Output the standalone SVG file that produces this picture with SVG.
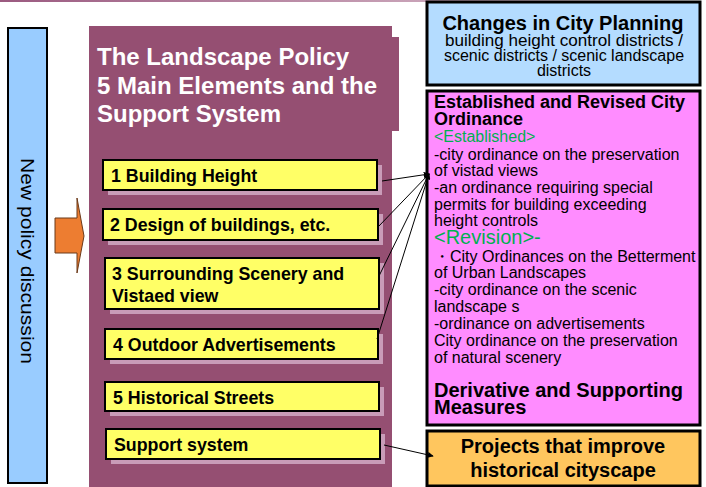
<svg xmlns="http://www.w3.org/2000/svg" width="706" height="487" viewBox="0 0 706 487">
<defs>
  <linearGradient id="topbar" x1="0" y1="0" x2="1" y2="0">
    <stop offset="0" stop-color="#9b5a80"/>
    <stop offset="0.6" stop-color="#c9a3b8"/>
    <stop offset="1" stop-color="#ffffff"/>
  </linearGradient>
  <marker id="ah" viewBox="0 0 8 8" refX="7" refY="4" markerWidth="6" markerHeight="6" orient="auto" markerUnits="userSpaceOnUse">
    <path d="M0,0 L8,4 L0,8 z" fill="#000"/>
  </marker>
</defs>
<style>
  text { font-family: "Liberation Sans", Arial, sans-serif; }
  .title { fill: #ffffff; font-weight: bold; font-size: 24px; }
  .item-shadow { fill: #c99cb8; }
  .item { fill: #ffff66; stroke: #000; stroke-width: 2; }
  .item-text { font-weight: bold; font-size: 17.8px; fill: #000; }
  .conn { stroke: #000; stroke-width: 1; fill: none; }
  .box { stroke: #000; stroke-width: 3; }
  .body { font-size: 16px; fill: #000; }
  .green { fill: #00b050; }
  .bold18 { font-weight: bold; font-size: 18px; }
  .bold20 { font-weight: bold; font-size: 20px; }
  .sub { font-size: 16px; fill: #000; }
</style>

<rect x="0" y="0" width="706" height="2" fill="url(#topbar)"/>

<g id="new-policy">
  <rect x="8" y="28" width="39" height="455" fill="#99ccff" stroke="#000" stroke-width="2"/>
  <text transform="translate(21,158) rotate(90)" font-size="18.5px" fill="#000" textLength="206" lengthAdjust="spacingAndGlyphs">New policy discussion</text>
</g>

<g id="arrow">
  <path d="M55,218 L77,218 L77,198 L84,236 L77,273 L77,253 L55,253 Z" fill="#ed7d31" stroke="#6b3a1a" stroke-width="1"/>
</g>

<g id="policy-panel">
  <rect x="89" y="26" width="303" height="461" fill="#954f72"/>
  <rect x="89" y="37" width="310" height="94" fill="#954f72"/>
  <text class="title" x="97" y="65">The Landscape Policy</text>
  <text class="title" x="97" y="94">5 Main Elements and the</text>
  <text class="title" x="97" y="122">Support System</text>
</g>

<g id="item1">
  <rect class="item-shadow" x="108" y="165" width="274" height="30"/>
  <rect class="item" x="103" y="160" width="274" height="30"/>
  <text class="item-text" x="111" y="182">1 Building Height</text>
</g>
<g id="item2">
  <rect class="item-shadow" x="108" y="214" width="275" height="31"/>
  <rect class="item" x="103" y="209" width="275" height="31"/>
  <text class="item-text" x="110" y="231">2 Design of buildings, etc.</text>
</g>
<g id="item3">
  <rect class="item-shadow" x="110" y="263" width="274" height="51"/>
  <rect class="item" x="105" y="258" width="274" height="51"/>
  <text class="item-text" x="112" y="280">3 Surrounding Scenery and</text>
  <text class="item-text" x="112" y="302">Vistaed view</text>
</g>
<g id="item4">
  <rect class="item-shadow" x="110" y="334" width="273" height="30"/>
  <rect class="item" x="105" y="329" width="273" height="30"/>
  <text class="item-text" x="113" y="351">4 Outdoor Advertisements</text>
</g>
<g id="item5">
  <rect class="item-shadow" x="110" y="387" width="274" height="29"/>
  <rect class="item" x="105" y="382" width="274" height="29"/>
  <text class="item-text" x="113" y="404">5 Historical Streets</text>
</g>
<g id="support">
  <rect class="item-shadow" x="111" y="434" width="274" height="30"/>
  <rect class="item" x="106" y="429" width="274" height="30"/>
  <text class="item-text" x="114" y="451">Support system</text>
</g>

<g id="city-planning">
  <rect class="box" x="427" y="2" width="273" height="83" fill="#b4dcff"/>
  <text class="bold20" x="563" y="30" text-anchor="middle">Changes in City Planning</text>
  <text class="sub" x="564" y="46" text-anchor="middle" textLength="238" lengthAdjust="spacingAndGlyphs">building height control districts /</text>
  <text class="sub" x="564" y="61" text-anchor="middle">scenic districts / scenic landscape</text>
  <text class="sub" x="564" y="76" text-anchor="middle">districts</text>
</g>

<g id="ordinance">
  <rect class="box" x="427" y="91" width="273" height="334" fill="#ff8cff"/>
  <text class="bold18" x="434" y="108">Established and Revised City</text>
  <text class="bold18" x="434" y="125">Ordinance</text>
  <text class="body green" x="434" y="142">&lt;Established&gt;</text>
  <text class="body" x="434" y="160">-city ordinance on the preservation</text>
  <text class="body" x="434" y="176">of vistad views</text>
  <text class="body" x="434" y="193">-an ordinance requiring special</text>
  <text class="body" x="434" y="210">permits for building exceeding</text>
  <text class="body" x="434" y="226">height controls</text>
  <text class="green" x="434" y="244" font-size="20px">&lt;Revision&gt;-</text>
  <text class="body" x="434" y="262">・City Ordinances on the Betterment</text>
  <text class="body" x="434" y="278">of Urban Landscapes</text>
  <text class="body" x="434" y="295">-city ordinance on the scenic</text>
  <text class="body" x="434" y="312">landscape s</text>
  <text class="body" x="434" y="329">-ordinance on advertisements</text>
  <text class="body" x="434" y="346">City ordinance on the preservation</text>
  <text class="body" x="434" y="363">of natural scenery</text>
  <text class="bold20" x="434" y="397">Derivative and Supporting</text>
  <text class="bold20" x="434" y="414">Measures</text>
</g>

<g id="projects">
  <rect class="box" x="427" y="431" width="273" height="55" fill="#ffc65e"/>
  <text class="bold20" x="563" y="453" text-anchor="middle">Projects that improve</text>
  <text class="bold20" x="563" y="477" text-anchor="middle">historical cityscape</text>
</g>

<g id="connectors">
  <line class="conn" x1="382" y1="181" x2="429" y2="174" marker-end="url(#ah)"/>
  <line class="conn" x1="378" y1="227" x2="429" y2="174" marker-end="url(#ah)"/>
  <line class="conn" x1="379" y1="276" x2="429" y2="174" marker-end="url(#ah)"/>
  <line class="conn" x1="377" y1="339" x2="429" y2="174" marker-end="url(#ah)"/>
  <line class="conn" x1="384" y1="445" x2="433" y2="456" marker-end="url(#ah)"/>
</g>
</svg>
